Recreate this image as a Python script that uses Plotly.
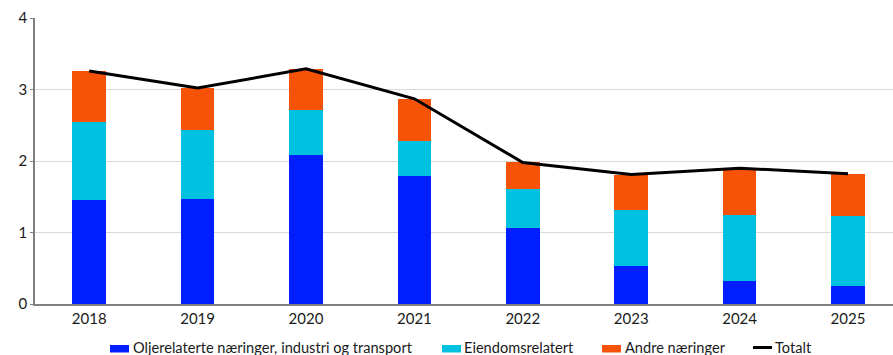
import plotly.graph_objects as go

years = ["2018", "2019", "2020", "2021", "2022", "2023", "2024", "2025"]
olje = [1.45, 1.47, 2.08, 1.79, 1.065, 0.53, 0.32, 0.25]
eiendom = [1.095, 0.96, 0.63, 0.49, 0.545, 0.78, 0.92, 0.98]
andre = [0.715, 0.59, 0.58, 0.59, 0.37, 0.50, 0.66, 0.59]
totalt = [3.26, 3.02, 3.29, 2.87, 1.98, 1.81, 1.90, 1.82]

names = ["Oljerelaterte næringer, industri og transport", "Eiendomsrelatert",
         "Andre næringer", "Totalt"]
colors = ["#001EFF", "#00C1E0", "#F65208", "#000000"]

FONT = "Lato, Liberation Sans, sans-serif"
W, H = 893, 355
ML, MR, MT, MB = 35, 0, 18, 51

fig = go.Figure()
for vals, name, col in zip([olje, eiendom, andre], names[:3], colors[:3]):
    fig.add_bar(x=years, y=vals, name=name, marker=dict(color=col, line=dict(width=0)))
fig.add_scatter(x=years, y=totalt, name=names[3], mode="lines",
                line=dict(color=colors[3], width=3))


# legend drawn below the axis: pixel layout converted to paper coordinates
def px(x):
    return (x - ML) / (W - ML - MR)


def py(y):
    return (H - MB - y) / (H - MT - MB)


legend_items = [(110, 131), (442, 462), (602, 623), (753, 773)]
shapes = []
annotations = []
for i, ((sx, tx), name, col) in enumerate(zip(legend_items, names, colors)):
    if i < 3:
        shapes.append(dict(type="rect", xref="paper", yref="paper", x0=px(sx), x1=px(sx + 19),
                           y0=py(352.5), y1=py(345), fillcolor=col, line=dict(width=0)))
    else:
        shapes.append(dict(type="line", xref="paper", yref="paper", x0=px(sx), x1=px(sx + 19),
                           y0=py(347.5), y1=py(347.5), line=dict(color=col, width=3)))
    annotations.append(dict(text=name, xref="paper", yref="paper", x=px(tx), y=py(347),
                            xanchor="left", yanchor="middle", showarrow=False,
                            font=dict(size=14.6, color="#1a1a1a")))

fig.update_layout(
    width=W, height=H,
    barmode="stack", bargap=0.69,
    plot_bgcolor="white", paper_bgcolor="white",
    margin=dict(l=ML, r=MR, t=MT, b=MB),
    font=dict(family=FONT, size=15, color="#1a1a1a"),
    showlegend=False,
    shapes=shapes, annotations=annotations,
    xaxis=dict(type="category", range=[-0.5, 7.415], showline=True, linecolor="#808080",
               linewidth=1.5, ticks="", showgrid=False, tickfont=dict(size=15)),
    yaxis=dict(range=[0, 4], dtick=1, showline=True, linecolor="#808080", linewidth=1.5,
               ticks="outside", ticklen=3, tickcolor="#808080", gridcolor="#D9D9D9",
               gridwidth=1, zeroline=False, tickfont=dict(size=15)),
)

fig.write_html("out.html")
